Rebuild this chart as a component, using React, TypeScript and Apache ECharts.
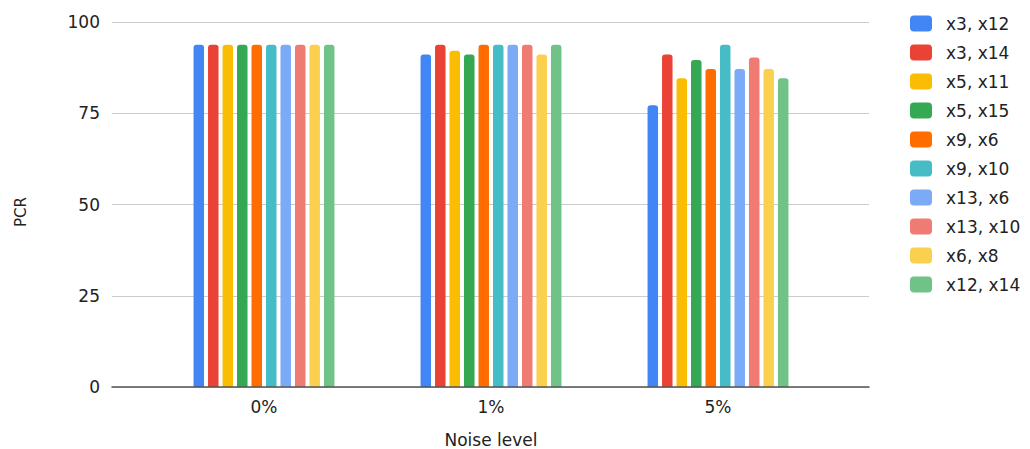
import React, { useEffect, useRef } from "react";
import * as echarts from "echarts";

const categories = ["0%", "1%", "5%"];
const seriesNames = [
  "x3, x12", "x3, x14", "x5, x11", "x5, x15", "x9, x6",
  "x9, x10", "x13, x6", "x13, x10", "x6, x8", "x12, x14",
];
const colors = [
  "#4285F4", "#EA4335", "#FBBC04", "#34A853", "#FF6D01",
  "#46BDC6", "#7BAAF7", "#F07B72", "#FCD04F", "#71C287",
];
const x3x12 = [93.75, 91.1, 77.2];
const x3x14 = [93.75, 93.75, 91.1];
const x5x11 = [93.75, 92.1, 84.6];
const x5x15 = [93.75, 91.1, 89.6];
const x9x6 = [93.75, 93.75, 87.1];
const x9x10 = [93.75, 93.75, 93.75];
const x13x6 = [93.75, 93.75, 87.1];
const x13x10 = [93.75, 93.75, 90.3];
const x6x8 = [93.75, 91.1, 87.1];
const x12x14 = [93.75, 93.75, 84.6];
const values = [x3x12, x3x14, x5x11, x5x15, x9x6, x9x10, x13x6, x13x10, x6x8, x12x14];
const yTicks = { min: 0, max: 100, interval: 25 };

export default function App() {
  const ref = useRef<HTMLDivElement>(null);
  useEffect(() => {
    if (!ref.current) return;
    const chart = echarts.init(ref.current, undefined, { renderer: "svg" });
    const font = "'DejaVu Sans', 'Liberation Sans', sans-serif";
    chart.setOption({
      animation: false,
      backgroundColor: "#ffffff",
      textStyle: { fontFamily: font },
      legend: {
        orient: "vertical",
        left: 910,
        top: 15,
        padding: 0,
        itemWidth: 22,
        itemHeight: 16,
        itemGap: 12,
        icon: "roundRect",
        textStyle: {
          fontSize: 17,
          lineHeight: 16,
          color: "#222",
          fontFamily: font,
          padding: [0, 0, 0, 9],
        },
        data: seriesNames,
      },
      grid: [
        { left: 112, right: 161, top: 22, bottom: 62, outerBoundsMode: "none" },
        { left: 150.5, width: 681, top: 22, bottom: 62, outerBoundsMode: "none" },
      ],
      xAxis: [
        {
          type: "category",
          gridIndex: 0,
          data: categories,
          axisLabel: { show: false },
          axisTick: { show: false },
          axisLine: { show: true, lineStyle: { color: "#555", width: 1.5 } },
          z: 5,
        },
        {
          type: "category",
          gridIndex: 1,
          data: categories,
          axisLine: { show: false },
          axisTick: { show: false },
          axisLabel: { fontSize: 17, color: "#222", margin: 11, fontFamily: font },
          name: "Noise level",
          nameLocation: "middle",
          nameGap: 44,
          nameTextStyle: { fontSize: 17, color: "#222", fontFamily: font },
        },
      ],
      yAxis: [
        {
          type: "value",
          gridIndex: 0,
          min: yTicks.min,
          max: yTicks.max,
          interval: yTicks.interval,
          axisLine: { show: false },
          axisTick: { show: false },
          axisLabel: { fontSize: 17, color: "#222", margin: 12, fontFamily: font },
          splitLine: { lineStyle: { color: "#cccccc", width: 1 } },
          name: "PCR",
          nameLocation: "middle",
          nameGap: 84,
          nameRotate: 90,
          nameTextStyle: {
            fontSize: 15,
            color: "#222",
            fontFamily: font,
            padding: [0, 15, 0, 0],
          },
        },
        {
          type: "value",
          gridIndex: 1,
          min: yTicks.min,
          max: yTicks.max,
          interval: yTicks.interval,
          show: false,
          splitLine: { show: false },
        },
      ],
      series: values.map((v, i) => ({
        name: seriesNames[i],
        type: "bar",
        xAxisIndex: 1,
        yAxisIndex: 1,
        data: v,
        barWidth: 10.5,
        barGap: "38%",
        itemStyle: { color: colors[i], borderRadius: [3, 3, 0, 0] },
      })),
    });
    return () => chart.dispose();
  }, []);
  return (
    <div
      ref={ref}
      style={{ position: "absolute", left: 0, top: 0, width: 1030, height: 449 }}
    />
  );
}
